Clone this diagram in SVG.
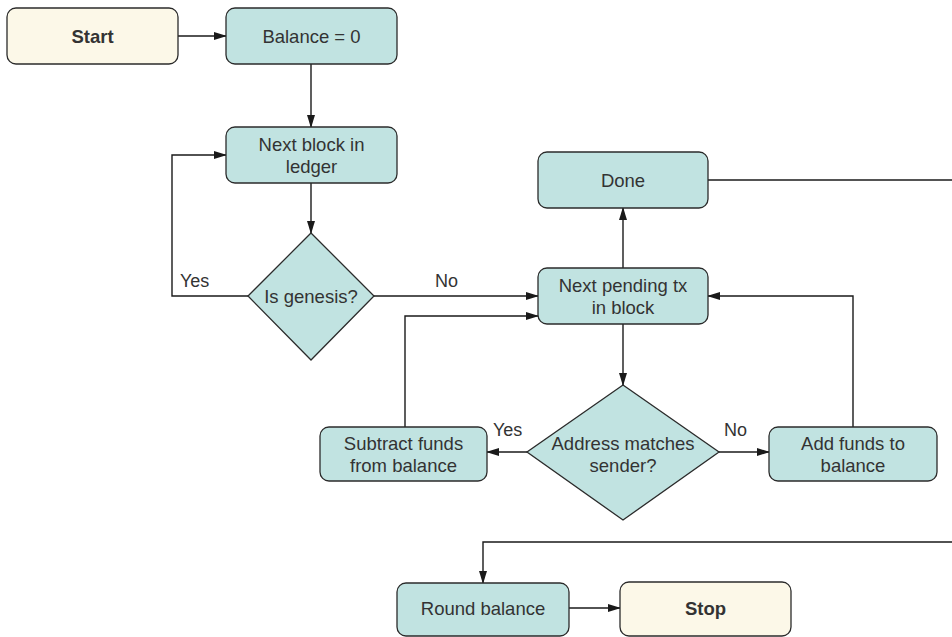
<svg xmlns="http://www.w3.org/2000/svg" width="952" height="637" viewBox="0 0 952 637">
<defs>
<marker id="arr" markerWidth="13" markerHeight="8" refX="12" refY="4" orient="auto" markerUnits="userSpaceOnUse">
<path d="M0,0 L13,4 L0,8 z" fill="#1a1a1a"/>
</marker>
<style>
.box{fill:#c1e3e1;stroke:#2b2b2b;stroke-width:1.3}
.term{fill:#fcf8e8;stroke:#2b2b2b;stroke-width:1.3}
.t{font-family:"Liberation Sans",Arial,sans-serif;font-size:18.5px;fill:#333;text-anchor:middle}
.b{font-weight:bold}
.lbl{font-family:"Liberation Sans",Arial,sans-serif;font-size:18px;fill:#333}
.c{fill:none;stroke:#1a1a1a;stroke-width:1.4}
</style>
</defs>
<rect width="952" height="637" fill="#fff"/>
<g id="connectors">
<path class="c" d="M178,36 H226" marker-end="url(#arr)"/>
<path class="c" d="M311,64 V127" marker-end="url(#arr)"/>
<path class="c" d="M311,183 V233" marker-end="url(#arr)"/>
<path class="c" d="M248,296 H172 V155 H226" marker-end="url(#arr)"/>
<path class="c" d="M374,296 H538" marker-end="url(#arr)"/>
<path class="c" d="M623,268 V208" marker-end="url(#arr)"/>
<path class="c" d="M708,180 H952"/>
<path class="c" d="M623,324 V385" marker-end="url(#arr)"/>
<path class="c" d="M527,452 H487" marker-end="url(#arr)"/>
<path class="c" d="M719,452 H769" marker-end="url(#arr)"/>
<path class="c" d="M405,427 V316 H538" marker-end="url(#arr)"/>
<path class="c" d="M853,427 V296 H708" marker-end="url(#arr)"/>
<path class="c" d="M952,542 H483 V583" marker-end="url(#arr)"/>
<path class="c" d="M569,608 H620" marker-end="url(#arr)"/>
<text class="lbl" x="180" y="287">Yes</text>
<text class="lbl" x="435" y="287">No</text>
<text class="lbl" x="493" y="436">Yes</text>
<text class="lbl" x="724" y="436">No</text>
</g>
<g id="start"><rect class="term" x="7" y="8" width="171" height="56" rx="9"/><text class="t b" x="92.5" y="42.5">Start</text></g>
<g id="balance0"><rect class="box" x="226" y="8" width="171" height="56" rx="9"/><text class="t" x="311.5" y="42.5">Balance = 0</text></g>
<g id="nextblock"><rect class="box" x="226" y="127" width="171" height="56" rx="9"/><text class="t" x="311.5" y="150.5">Next block in</text><text class="t" x="311.5" y="172.5">ledger</text></g>
<g id="genesis"><polygon class="box" points="311,233 374,296 311,360 248,296"/><text class="t" x="311" y="302.5">Is genesis?</text></g>
<g id="done"><rect class="box" x="538" y="152" width="170" height="56" rx="9"/><text class="t" x="623" y="186.5">Done</text></g>
<g id="nexttx"><rect class="box" x="538" y="268" width="170" height="56" rx="9"/><text class="t" x="623" y="291.5">Next pending tx</text><text class="t" x="623" y="313.5">in block</text></g>
<g id="address"><polygon class="box" points="623,385 719,452 623,520 527,452"/><text class="t" x="623" y="449.5">Address matches</text><text class="t" x="623" y="471.5">sender?</text></g>
<g id="subtract"><rect class="box" x="320" y="427" width="167" height="54" rx="9"/><text class="t" x="403.5" y="449.5">Subtract funds</text><text class="t" x="403.5" y="471.5">from balance</text></g>
<g id="add"><rect class="box" x="769" y="427" width="168" height="54" rx="9"/><text class="t" x="853" y="449.5">Add funds to</text><text class="t" x="853" y="471.5">balance</text></g>
<g id="round"><rect class="box" x="397" y="583" width="172" height="53" rx="9"/><text class="t" x="483" y="614.5">Round balance</text></g>
<g id="stop"><rect class="term" x="620" y="582" width="171" height="54" rx="9"/><text class="t b" x="705.5" y="614.5">Stop</text></g>
</svg>
